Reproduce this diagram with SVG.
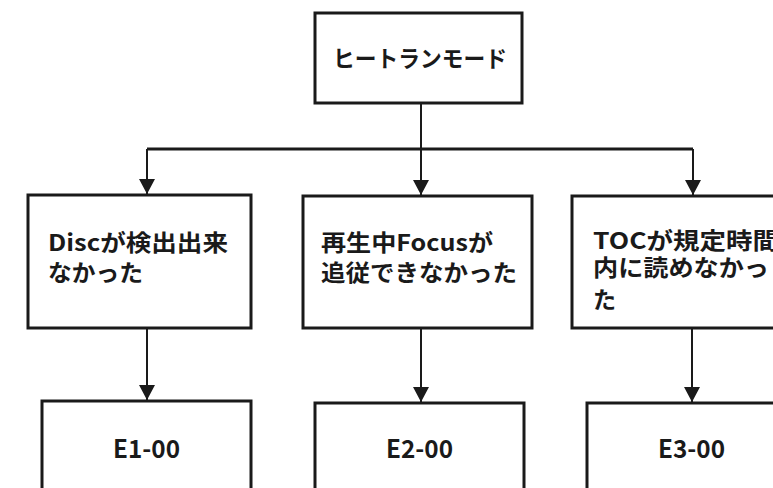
<svg xmlns="http://www.w3.org/2000/svg" width="773" height="488" viewBox="0 0 773 488">
<style>
.box{fill:#fff;stroke:#1a1a1a;stroke-width:3}
.t{font-family:"Noto Sans CJK JP","Liberation Sans",sans-serif;font-size:23px;font-weight:bold;fill:#1a1a1a}
.e{font-size:25px}
.c{fill:none;stroke:#1a1a1a;stroke-width:2}
.bus{fill:none;stroke:#1a1a1a;stroke-width:3}
</style>
<defs>
<marker id="ah" markerUnits="userSpaceOnUse" markerWidth="16" markerHeight="16" refX="15" refY="8" orient="auto">
<path d="M0,0 L15,8 L0,16 Z" fill="#1a1a1a"/>
</marker>
</defs>
<rect width="773" height="488" fill="#fff"/>
<g id="connectors">
<path class="c" d="M421,103 V149"/>
<path class="bus" d="M147,149 H693"/>
<path class="c" d="M147,149 V194" marker-end="url(#ah)"/>
<path class="c" d="M421,149 V195" marker-end="url(#ah)"/>
<path class="c" d="M693,149 V195" marker-end="url(#ah)"/>
<path class="c" d="M147,328 V400" marker-end="url(#ah)"/>
<path class="c" d="M421,328 V402" marker-end="url(#ah)"/>
<path class="c" d="M692,328 V402" marker-end="url(#ah)"/>
</g>
<g id="heat">
<rect class="box" x="315" y="13" width="207" height="90"/>
<text class="t" x="333" y="67" textLength="174" lengthAdjust="spacingAndGlyphs">ヒートランモード</text>
</g>
<g id="n1">
<rect class="box" x="28" y="195" width="223" height="133"/>
<text class="t" x="48" y="251" textLength="180" lengthAdjust="spacingAndGlyphs">Discが検出出来</text>
<text class="t" x="48" y="281" textLength="95" lengthAdjust="spacingAndGlyphs">なかった</text>
</g>
<g id="n2">
<rect class="box" x="303" y="196" width="229" height="132"/>
<text class="t" x="321" y="251" textLength="172" lengthAdjust="spacingAndGlyphs">再生中Focusが</text>
<text class="t" x="321" y="281" textLength="196" lengthAdjust="spacingAndGlyphs">追従できなかった</text>
</g>
<g id="n3">
<rect class="box" x="572" y="196" width="240" height="132"/>
<text class="t" x="593" y="249" textLength="186" lengthAdjust="spacingAndGlyphs">TOCが規定時間</text>
<text class="t" x="593" y="276" textLength="176" lengthAdjust="spacingAndGlyphs">内に読めなかっ</text>
<text class="t" x="593" y="308">た</text>
</g>
<g id="e1">
<rect class="box" x="42" y="401" width="209" height="110"/>
<text class="t e" x="113" y="458" textLength="67" lengthAdjust="spacingAndGlyphs">E1-00</text>
</g>
<g id="e2">
<rect class="box" x="315" y="403" width="209" height="110"/>
<text class="t e" x="386" y="458" textLength="67" lengthAdjust="spacingAndGlyphs">E2-00</text>
</g>
<g id="e3">
<rect class="box" x="587" y="403" width="220" height="110"/>
<text class="t e" x="658" y="458" textLength="67" lengthAdjust="spacingAndGlyphs">E3-00</text>
</g>
</svg>
